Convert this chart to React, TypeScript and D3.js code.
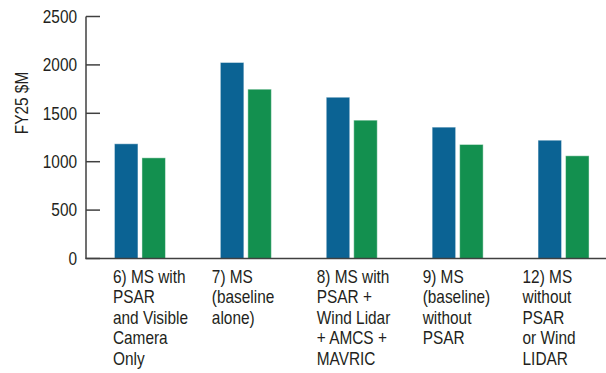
import React from "react";
import * as d3 from "d3";

const categories = [
  "6) MS with|PSAR|and Visible|Camera|Only",
  "7) MS|(baseline|alone)",
  "8) MS with|PSAR +|Wind Lidar|+ AMCS +|MAVRIC",
  "9) MS|(baseline)|without|PSAR",
  "12) MS|without|PSAR|or Wind|LIDAR",
];
const seriesNames = ["Series A", "Series B"];
const seriesA = [1185, 2025, 1666, 1357, 1222];
const seriesB = [1040, 1749, 1429, 1178, 1061];
const yTicks = [0, 500, 1000, 1500, 2000, 2500];

const W = 606;
const H = 373;
const COLORS = ["#0b6394", "#13904f"];
const FONT = "'Liberation Sans Narrow', 'Arial Narrow', 'Liberation Sans', Arial, sans-serif";
const FS = 17.5;
const SX = 0.88;
const labelOffsets = [-27, -34, -35, -35, -41];

export default function App() {
  const axisX = 86;
  const y = d3.scaleLinear().domain([0, 2500]).range([258.5, 16.5]);
  const x = d3.scaleBand<number>().domain(d3.range(categories.length)).range([87, 87 + 105.9 * 5]);
  const inner = d3.scaleBand<number>().domain([0, 1]).range([-25.5, 25.5]).paddingInner(4 / 27.5);
  const series = [seriesA, seriesB];
  const textColor = "#231f20";
  const axisColor = "#404040";

  return (
    <svg width={W} height={H} style={{ position: "absolute", left: 0, top: 0, background: "#fff" }} fontFamily={FONT}>
      {categories.map((c, i) => {
        const cx = (x(i) as number) + x.bandwidth() / 2;
        return series.map((s, j) => (
          <rect
            key={`${i}-${j}`}
            x={cx + (inner(j) as number)}
            y={y(s[i])}
            width={inner.bandwidth()}
            height={y(0) - y(s[i])}
            fill={COLORS[j]}
            stroke="#ffffff"
            strokeOpacity={0.45}
            strokeWidth={1}
          >
            <title>{seriesNames[j]}</title>
          </rect>
        ));
      })}
      <line x1={axisX} x2={axisX} y1={y(2500)} y2={y(0)} stroke={axisColor} strokeWidth={1.5} />
      {yTicks.map((t) => (
        <g key={t}>
          <line x1={axisX} x2={axisX + 14} y1={y(t)} y2={y(t)} stroke={axisColor} strokeWidth={1.5} />
          <g transform={`translate(77, ${y(t)}) scale(${SX}, 1)`}>
            <text dy="0.36em" textAnchor="end" fontSize={FS} fill={textColor}>
              {t}
            </text>
          </g>
        </g>
      ))}
      <line x1={axisX - 0.75} x2={W} y1={y(0)} y2={y(0)} stroke={axisColor} strokeWidth={1.5} />
      <g transform={`translate(28, 103) rotate(-90) scale(${SX}, 1)`}>
        <text textAnchor="middle" fontSize={FS} fill={textColor}>
          FY25 $M
        </text>
      </g>
      {categories.map((c, i) => {
        const cx = (x(i) as number) + x.bandwidth() / 2;
        return (
          <g key={c} transform={`translate(${cx + labelOffsets[i]}, 283) scale(${SX}, 1)`}>
            <text fontSize={FS} fill={textColor}>
              {c.split("|").map((line, k) => (
                <tspan key={k} x={0} dy={k === 0 ? 0 : 20.5}>
                  {line}
                </tspan>
              ))}
            </text>
          </g>
        );
      })}
    </svg>
  );
}
